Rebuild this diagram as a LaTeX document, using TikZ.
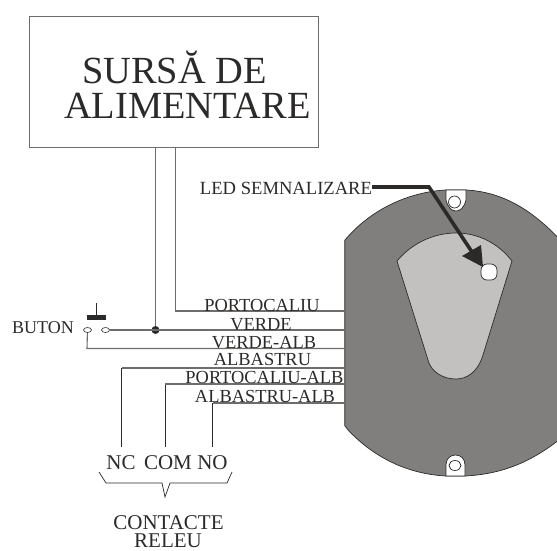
\documentclass[tikz,border=0pt]{standalone}
\usepackage{fontspec}
\usetikzlibrary{shapes.geometric}
\setmainfont{Liberation Serif}
\definecolor{ink}{HTML}{2B2A28}
\definecolor{wire}{HTML}{6E6D6B}
\definecolor{dev}{HTML}{807F7D}
\definecolor{inner}{HTML}{C2C1BF}
\tikzset{
  lbl/.style={font=\fontsize{#1}{#1}\selectfont,text=ink,inner sep=0pt,anchor=base},
  lbl/.default=16,
  wirel/.style={draw=wire,line width=1.1pt},
  thin wire/.style={draw=ink,line width=.8pt},
}
\begin{document}
\begin{tikzpicture}[x=1pt,y=-1pt]
\useasboundingbox (0,0) rectangle (557,550);
% device
\begin{scope}
\clip (0,0) rectangle (557,550);
\path[fill=dev,draw=ink,line width=.7pt]
  (345,240) .. controls (370,210) and (408,192) .. (446,190)
  -- (466,190) .. controls (505,192) and (535,212) .. (565,245)
  -- (565,435) .. controls (535,460) and (505,474) .. (465,476)
  -- (446,476) .. controls (408,474) and (375,458) .. (349,431)
  -- (345,426) -- cycle;
\draw[draw=wire,line width=1.4pt] (345,240) -- (345,426);
\path[fill=white,draw=ink,line width=.7pt]
  (446,190) -- (466,190) -- (466,200) .. controls (464,208) and (460,211) .. (456,211)
  .. controls (452,211) and (448,208) .. (446,200) -- cycle;
\path[fill=white,draw=ink,line width=.7pt]
  (446,476) -- (465,476) -- (465,465) .. controls (465,459) and (461,455) .. (455.5,455)
  .. controls (450,455) and (446,459) .. (446,465) -- cycle;
\path[fill=inner,draw=ink,line width=.7pt]
  (397,261) .. controls (412,243) and (434,233) .. (456,233)
  .. controls (478,233) and (498,243) .. (512,261)
  -- (483,355) -- (482,358) .. controls (477,372) and (467,379) .. (456,379)
  .. controls (443,379) and (431,372) .. (428,360) -- cycle;
\end{scope}
\node[draw=ink,line width=.7pt,circle,minimum size=12pt,inner sep=0pt,fill=white] (holetop) at (454.5,202) {};
\node[draw=ink,line width=.7pt,ellipse,minimum width=12pt,minimum height=10pt,inner sep=0pt,fill=white] (holebot) at (455,465.5) {};
\node[draw=ink,line width=.7pt,fill=white,rounded corners=6pt,minimum width=16pt,minimum height=16pt,inner sep=0pt] (led) at (489,272) {};
% power box
\node[draw=wire,line width=1pt,minimum width=289pt,minimum height=131.5pt,inner sep=0pt,anchor=north west] (box) at (29,15.5) {};
\node[lbl=38.4] (t1) at (174.5,83) {SURSĂ DE};
\node[lbl=38.4] (t2) at (187.5,118) {ALIMENTARE};
% wire junction coordinates
\coordinate (ve) at (345,330);
\coordinate (vd) at (155.5,330);
\node[fill=ink,circle,minimum size=8pt,inner sep=0pt] (dot) at (vd) {};
\coordinate (b1) at (155.5,147);
\coordinate (b2) at (175.5,147);
\draw[wirel] (b1) -- (dot);
\draw[wirel] (b2) -- (175.5,311) -- (345,311);
% button
\node[draw=ink,line width=.6pt,ellipse,minimum width=8pt,minimum height=5pt,inner sep=0pt] (c1) at (87.5,330) {};
\node[draw=ink,line width=.6pt,ellipse,minimum width=8pt,minimum height=5pt,inner sep=0pt] (c2) at (105.5,330) {};
\node[fill=ink,minimum width=19pt,minimum height=5pt,inner sep=0pt] (bar) at (96.5,317.5) {};
\coordinate (stem) at (96.5,303);
\draw[draw=ink,line width=.8pt] (stem) -- (bar.north);
\draw[wirel] (c2) -- (ve);
\draw[wirel] (c1) -- (87,348.5) -- (345,348.5);
% contacts
\node[lbl=21] (nc) at (121,469) {NC};
\node[lbl=21] (com) at (168,469) {COM};
\node[lbl=21] (no) at (212.5,469) {NO};
\coordinate (wnc) at (121.5,447);
\coordinate (wcom) at (165,447);
\coordinate (wno) at (212.5,447);
\draw[thin wire] (wnc) -- (121.5,368);
\draw[wirel] (121.5,368) -- (345,368);
\draw[thin wire] (wcom) -- (165,384);
\draw[wirel] (165,384) -- (345,384);
\draw[thin wire] (wno) -- (212.5,403);
\draw[wirel] (212.5,403) -- (345,403);
\draw[draw=ink,line width=.7pt] (99,472) -- (106,483) -- (162,483) -- (165,497) -- (170,483) -- (227,483) -- (232,472);
% wire labels
\node[lbl=18.4] (l1) at (262,311) {PORTOCALIU};
\node[lbl=18.4] (l2) at (261,330) {VERDE};
\node[lbl=18.4] (l3) at (264,348.5) {VERDE-ALB};
\node[lbl=18.4] (l4) at (262.5,365) {ALBASTRU};
\node[lbl=18.4] (l5) at (264.5,383) {PORTOCALIU-ALB};
\node[lbl=18.4] (l6) at (265,402) {ALBASTRU-ALB};
\node[lbl=18] (l7) at (43,333) {BUTON};
\node[lbl=18.6] (l8) at (286,194) {LED SEMNALIZARE};
\node[lbl=21] (l9) at (168.5,529) {CONTACTE};
\node[lbl=21] (l10) at (168,547) {RELEU};
% led arrow
\coordinate (bend) at (429,187);
\draw[draw=ink,line width=3.6pt] (372,187) -- (bend) -- (472,252);
\fill[ink] (481,245) -- (462,256) -- (483,267) -- cycle;
\end{tikzpicture}
\end{document}
